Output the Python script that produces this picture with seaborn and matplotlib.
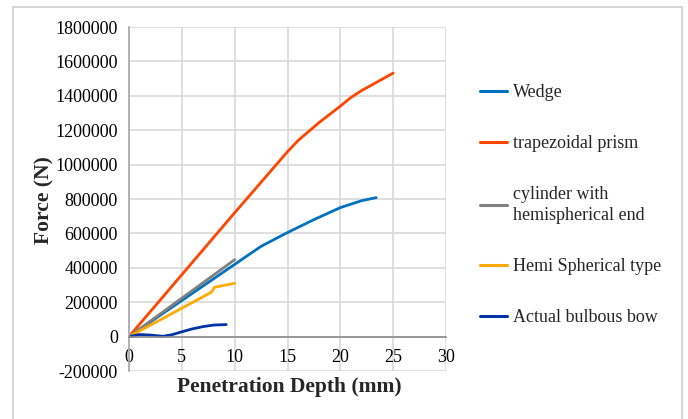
import numpy as np
import pandas as pd
import matplotlib
matplotlib.use("Agg")
import matplotlib.pyplot as plt
import matplotlib.ticker as mticker
from matplotlib.patches import Rectangle
import seaborn as sns

# ---- data ----
wedge_x = [0, 5, 10, 12.5, 15, 17.5, 20, 22, 23.4]
wedge_y = [0, 210000, 420000, 525000, 605000, 680000, 750000, 790000, 808000]

trap_x = [0, 5, 10, 15, 16, 18, 20, 21, 22, 25]
trap_y = [0, 360000, 720000, 1075000, 1140000, 1245000, 1340000, 1390000, 1430000, 1532000]

cyl_x = [0, 10]
cyl_y = [0, 447000]

hemi_x = [0, 5, 7.8, 8.1, 10]
hemi_y = [0, 165000, 258000, 287000, 310000]

bulb_x = [0, 1, 2, 3.2, 4, 5, 6, 7, 8, 9.2]
bulb_y = [0, 12000, 9000, 2000, 10000, 28000, 45000, 58000, 67000, 70000]

series_names = ["Wedge", "trapezoidal prism", "cylinder with\nhemispherical end",
                "Hemi Spherical type", "Actual bulbous bow"]
series_colors = ["#0070C0", "#FF4500", "#808080", "#FFAA00", "#0033A8"]

x_ticks = [0, 5, 10, 15, 20, 25, 30]
y_ticks = list(range(-200000, 1800001, 200000))

frames = []
for name, xs, ys in zip(series_names,
                        [wedge_x, trap_x, cyl_x, hemi_x, bulb_x],
                        [wedge_y, trap_y, cyl_y, hemi_y, bulb_y]):
    frames.append(pd.DataFrame({"x": xs, "y": ys, "series": name}))
df = pd.concat(frames, ignore_index=True)

sns.set_theme(style="white")
plt.rcParams["font.family"] = ["Liberation Serif", "DejaVu Serif"]

fig = plt.figure(figsize=(6.88, 4.19), dpi=100)
ax = fig.add_axes([129/688, 1 - 371/419, (446 - 129)/688, (371 - 27)/419])

sns.lineplot(data=df, x="x", y="y", hue="series", hue_order=series_names,
             palette=dict(zip(series_names, series_colors)),
             estimator=None, sort=False, linewidth=2.0, ax=ax, legend=False)

ax.set_xlim(0, 30)
ax.set_ylim(-200000, 1800000)
ax.set_xticks(x_ticks)
ax.set_yticks(y_ticks)
ax.yaxis.set_major_formatter(mticker.FuncFormatter(lambda v, p: f"{int(round(v))}"))
ax.grid(True, color="#d9d9d9", linewidth=1.2)
ax.set_axisbelow(True)

for s in ["top", "right"]:
    ax.spines[s].set_visible(False)
ax.spines["bottom"].set_position(("data", 0))
ax.spines["bottom"].set_color("#8c8c8c")
ax.spines["bottom"].set_linewidth(1.2)
ax.spines["left"].set_color("#a6a6a6")
ax.spines["left"].set_linewidth(1.2)

ax.tick_params(axis="both", length=0, labelsize=13, colors="black")
ax.tick_params(axis="y", pad=8)
ax.tick_params(axis="x", pad=9)

ax.set_xlabel("")
ax.set_ylabel("")
fig.text((129 + 446) / 2 / 688 + 0.003, 1 - 387/419, "Penetration Depth (mm)",
         ha="center", va="center", fontsize=15.5, fontweight="bold")
fig.text(44/688, 1 - 200/419, "Force (N)", rotation=90,
         ha="center", va="center", fontsize=15.5, fontweight="bold")

handles = [plt.Line2D([], [], color=c, linewidth=2.2) for c in series_colors]
leg = fig.legend(handles, series_names, loc="upper left",
                 bbox_to_anchor=(473/688, 1 - 77/419), frameon=False,
                 fontsize=13, handlelength=1.5, handletextpad=0.3,
                 labelspacing=1.88, borderaxespad=0)
for t in leg.get_texts():
    t.set_linespacing(1.3)

fig.patches.append(Rectangle((13/688, -0.05), (682 - 13)/688, 1.05 - 7/419,
                             transform=fig.transFigure, fill=False,
                             edgecolor="#d0d0d0", linewidth=1.2))

fig.savefig("out.png", dpi=100)
